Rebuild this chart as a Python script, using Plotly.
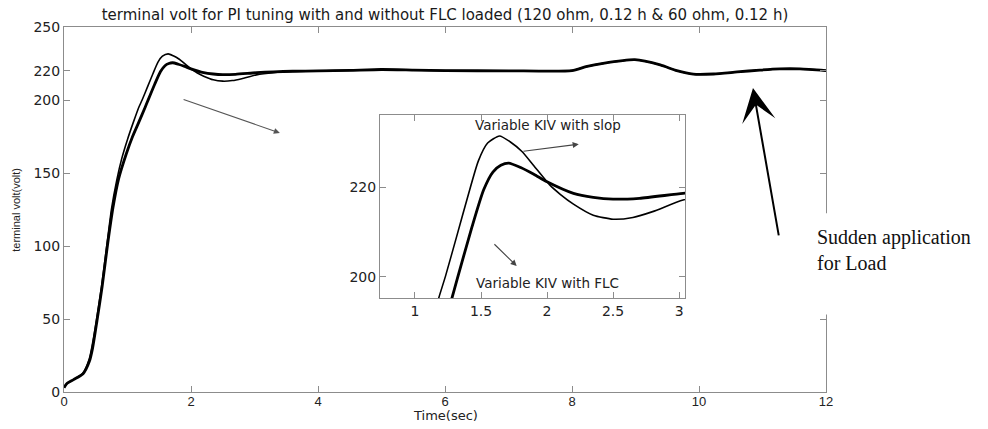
import plotly.graph_objects as go

# ---------------- data ----------------
# common tail after t = 4 s (both controllers coincide)
t_tail = [4.0, 4.5, 5.0, 5.5, 6.0, 7.0, 8.0, 8.22, 8.49, 8.99, 9.39, 9.65, 9.91, 10.23, 10.6, 10.96, 11.27, 11.59, 12.0]
v_tail = [219.9, 220.3, 220.9, 220.5, 220.1, 220.0, 220.1, 222.8, 225.1, 227.6, 224.0, 220.1, 217.7, 217.8, 219.2, 220.5, 221.3, 221.3, 220.1]

# Variable KIV with slop (thin line)
t_slop = [0, 0.05, 0.15, 0.30, 0.40, 0.44, 0.51, 0.59, 0.67, 0.75, 0.83, 0.91, 1.00, 1.09,
          1.18, 1.23, 1.32, 1.40, 1.48, 1.55, 1.64, 1.72, 1.81, 1.90, 2.02, 2.10, 2.20, 2.35, 2.50,
          2.65, 2.80, 3.03, 3.3, 3.6] + t_tail
v_slop = [3, 6, 8.5, 13, 23, 31, 49, 72, 99, 126, 145, 160, 173, 184.5,
          195.2, 200, 209.5, 218, 226, 230, 231.6, 230.3, 228.1, 224.9, 220.6, 218.5, 216.3, 213.8, 212.9,
          213.3, 214.6, 217.2, 218.7, 219.5] + v_tail

# Variable KIV with FLC (thick line)
t_flc = [0, 0.05, 0.15, 0.30, 0.40, 0.45, 0.52, 0.60, 0.68, 0.77, 0.86, 0.98, 1.08, 1.18,
         1.28, 1.32, 1.43, 1.52, 1.59, 1.65, 1.71, 1.80, 1.90, 2.00, 2.20, 2.35, 2.50, 2.70,
         3.03, 3.3, 3.6] + t_tail
v_flc = [3, 6, 8.5, 12.5, 21, 30, 49, 72, 99, 126, 146, 163, 175, 185,
         195.2, 199.5, 211, 219.5, 223.5, 225.0, 225.5, 224.5, 223.0, 221.3, 218.7, 217.8, 217.4, 217.6,
         218.7, 219.3, 219.7] + v_tail

x_ticks = [0, 2, 4, 6, 8, 10, 12]
y_ticks = [0, 50, 100, 150, 200, 220, 250]
inset_x_ticks = [1, 1.5, 2, 2.5, 3]
inset_y_ticks = [200, 220]

title_text = "terminal volt for PI tuning with and without FLC loaded (120 ohm, 0.12 h & 60 ohm, 0.12 h)"

# ---------------- figure ----------------
fig = go.Figure()
for xa, ya in (("x", "y"), ("x2", "y2")):
    fig.add_trace(go.Scatter(x=t_slop, y=v_slop, mode="lines", xaxis=xa, yaxis=ya,
                             line=dict(color="black", width=1.6, shape="spline", smoothing=0.6),
                             showlegend=False, hoverinfo="skip"))
    fig.add_trace(go.Scatter(x=t_flc, y=v_flc, mode="lines", xaxis=xa, yaxis=ya,
                             line=dict(color="black", width=2.8, shape="spline", smoothing=0.6),
                             showlegend=False, hoverinfo="skip"))

axis_common = dict(showline=True, linecolor="#8c8c8c", linewidth=1, mirror="ticks",
                   ticks="inside", ticklen=6, tickcolor="#8c8c8c", tickwidth=1,
                   showgrid=False, zeroline=False)

fig.update_layout(
    width=988, height=429,
    margin=dict(l=64, r=162, t=27, b=37),
    paper_bgcolor="white", plot_bgcolor="white",
    title=dict(text=title_text, x=0.5, xref="paper", xanchor="center",
               y=1 - 15 / 429, yref="container", yanchor="middle",
               font=dict(family="DejaVu Sans", size=15, color="#1a1a1a")),
    xaxis=dict(domain=[0, 1], range=[0, 12], tickvals=x_ticks, anchor="y", ticklabelstandoff=-3,
               tickfont=dict(family="Liberation Sans", size=13, color="#222"), **axis_common),
    yaxis=dict(domain=[0, 1], range=[0, 250], tickvals=y_ticks, anchor="x",
               tickfont=dict(family="DejaVu Sans", size=14, color="#222"), **axis_common),
    xaxis2=dict(domain=[0.4147, 0.815], range=[0.735, 3.045], tickvals=inset_x_ticks, anchor="y2",
                tickfont=dict(family="DejaVu Sans", size=14, color="#222"), **axis_common),
    yaxis2=dict(domain=[0.2575, 0.7589], range=[195.2, 236.3], tickvals=inset_y_ticks, anchor="x2",
                tickfont=dict(family="DejaVu Sans", size=14, color="#222"), **axis_common),
)

# white box behind the right-hand note (hides the axis line there)
fig.add_shape(type="rect", xref="paper", yref="paper", x0=0.978, x1=1.205, y0=0.212, y1=0.49,
              fillcolor="white", line=dict(width=0), layer="above")

annotations = [
    # axis titles
    dict(text="Time(sec)", xref="paper", yref="paper", x=0.5, y=-0.064, showarrow=False,
         xanchor="center", yanchor="middle", font=dict(family="DejaVu Sans", size=13, color="#222")),
    dict(text="terminal volt(volt)", xref="paper", yref="paper", x=-0.064, y=0.5, showarrow=False,
         textangle=-90, xanchor="center", yanchor="middle",
         font=dict(family="Liberation Sans", size=11, color="#222")),
    # main grey arrow pointing toward the inset
    dict(text="", xref="x", yref="y", x=3.40, y=177.4, axref="x", ayref="y", ax=1.86, ay=200.7,
         showarrow=True, arrowhead=2, arrowsize=1.1, arrowwidth=1.1, arrowcolor="#555"),
    # inset labels and arrows
    dict(text="Variable KIV with slop", xref="x2", yref="y2", x=2.008, y=234.1, showarrow=False,
         xanchor="center", yanchor="middle", font=dict(family="DejaVu Sans", size=13.5, color="#222")),
    dict(text="", xref="x2", yref="y2", x=2.24, y=229.75, axref="x2", ayref="y2", ax=1.81, ay=228.1,
         showarrow=True, arrowhead=2, arrowsize=1.1, arrowwidth=1.1, arrowcolor="#444"),
    dict(text="Variable KIV with FLC", xref="x2", yref="y2", x=2.0, y=198.5, showarrow=False,
         xanchor="center", yanchor="middle", font=dict(family="DejaVu Sans", size=13.5, color="#222")),
    dict(text="", xref="x2", yref="y2", x=1.77, y=202.4, axref="x2", ayref="y2", ax=1.59, ay=207.6,
         showarrow=True, arrowhead=2, arrowsize=1.1, arrowwidth=1.1, arrowcolor="#444"),
    # load application note
    dict(text="Sudden application<br>for Load", xref="paper", yref="paper", x=0.986, y=0.39,
         showarrow=False, xanchor="left", yanchor="middle", align="left",
         font=dict(family="Liberation Serif", size=20, color="#111")),
    dict(text="", xref="x", yref="y", x=10.85, y=208.2, axref="x", ayref="y", ax=11.26, ay=106.2,
         showarrow=True, arrowhead=3, arrowsize=2.8, arrowwidth=2, arrowcolor="black"),
]
fig.update_layout(annotations=annotations)

fig.write_html("out.html", config={"displayModeBar": False},
               post_script="document.body.style.margin='0px';")
